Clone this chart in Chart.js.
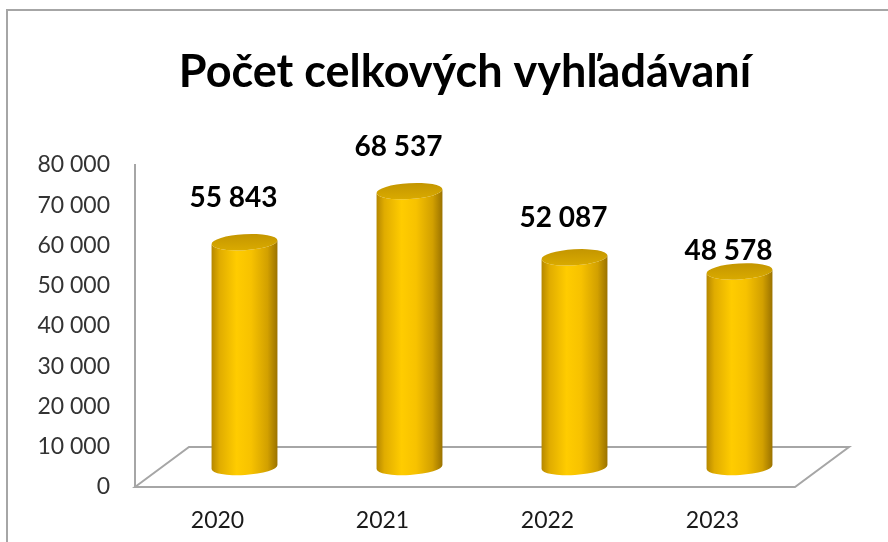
<!DOCTYPE html>
<html lang="sk">
<head>
<meta charset="UTF-8">
<title>Počet celkových vyhľadávaní</title>
<script src="https://cdn.jsdelivr.net/npm/chart.js"></script>
<style>
  body { margin: 0; background: #fff; }
  canvas { display: block; }
</style>
</head>
<body>
<canvas id="searchChart" width="888" height="542"></canvas>
<script>
// data
const years = ['2020', '2021', '2022', '2023'];
const searches = [55843, 68537, 52087, 48578];
const yMax = 80000;
const yStep = 10000;

const GREY = '#a6a6a6';
const DX = 54, DY = 40;          // depth of the 3D floor
const labelLift = [64, 64, 59, 41];

function spaced(v) {
    return String(v).replace(/\B(?=(\d{3})+(?!\d))/g, ' ');
}

// floor, frame, cylinders and value labels
const cylinders = {
    id: 'cylinders',
    beforeDraw(chart) {
        const ctx = chart.ctx;
        ctx.save();
        ctx.strokeStyle = GREY;
        ctx.lineWidth = 2;
        ctx.beginPath();
        ctx.moveTo(7, 542);
        ctx.lineTo(7, 10);
        ctx.lineTo(888, 10);
        ctx.stroke();
        ctx.restore();
    },
    beforeDatasetsDraw(chart) {
        const {ctx, chartArea: a} = chart;
        ctx.save();
        ctx.strokeStyle = GREY;
        ctx.lineWidth = 2;
        ctx.beginPath();
        ctx.moveTo(a.left, a.bottom);
        ctx.lineTo(a.left + DX, a.bottom - DY);
        ctx.lineTo(a.right + DX, a.bottom - DY);
        ctx.lineTo(a.right, a.bottom);
        ctx.closePath();
        ctx.stroke();
        ctx.restore();
    },
    afterDatasetsDraw(chart) {
        const ctx = chart.ctx;
        const meta = chart.getDatasetMeta(0);
        meta.data.forEach((bar, i) => {
            const rx = bar.width / 2, ry = 8, rot = -0.06;
            const cx = bar.x + DX / 2;
            const top = bar.y - DY / 2;
            const bot = bar.base - DY / 2;
            const ox = rx * Math.cos(rot), oy = rx * Math.sin(rot);

            ctx.save();
            const g = ctx.createLinearGradient(cx - rx, 0, cx + rx, 0);
            g.addColorStop(0, '#b58700');
            g.addColorStop(0.12, '#e0ac00');
            g.addColorStop(0.38, '#ffcc00');
            g.addColorStop(0.6, '#f7c200');
            g.addColorStop(0.85, '#d2a000');
            g.addColorStop(1, '#9a7200');
            ctx.fillStyle = g;
            ctx.beginPath();
            ctx.moveTo(cx - ox, top - oy);
            ctx.lineTo(cx - ox, bot - oy);
            ctx.ellipse(cx, bot, rx, ry, rot, Math.PI, 0, true);
            ctx.lineTo(cx + ox, top + oy);
            ctx.ellipse(cx, top, rx, ry, rot, 0, Math.PI, false);
            ctx.closePath();
            ctx.fill();

            const t = ctx.createLinearGradient(0, top - ry, 0, top + ry);
            t.addColorStop(0, '#c49600');
            t.addColorStop(1, '#d9aa00');
            ctx.fillStyle = t;
            ctx.beginPath();
            ctx.ellipse(cx, top, rx, ry, rot, 0, Math.PI * 2);
            ctx.fill();

            ctx.fillStyle = '#000';
            ctx.font = 'bold 28px Lato';
            ctx.textAlign = 'center';
            ctx.textBaseline = 'middle';
            ctx.fillText(spaced(searches[i]), bar.x + 16, bar.y - labelLift[i]);
            ctx.restore();
        });
    }
};

const ctx = document.getElementById('searchChart').getContext('2d');
new Chart(ctx, {
    type: 'bar',
    data: {
        labels: years,
        datasets: [{
            data: searches,
            backgroundColor: 'rgba(0,0,0,0)',
            barPercentage: 0.8,
            categoryPercentage: 0.5
        }]
    },
    options: {
        responsive: false,
        animation: false,
        devicePixelRatio: 1,
        layout: { padding: { left: 0, right: 93, top: 0, bottom: 0 } },
        plugins: {
            legend: { display: false },
            tooltip: { enabled: false },
            title: {
                display: true,
                fullSize: false,
                text: 'Počet celkových vyhľadávaní',
                color: '#000',
                font: { family: 'Lato', size: 45, weight: 'bold', lineHeight: 1.2 },
                padding: { top: 45, bottom: 66 }
            }
        },
        scales: {
            x: {
                grid: { display: false, drawTicks: false },
                border: { display: false },
                ticks: { color: '#1a1a1a', font: { family: 'Lato', size: 23 }, padding: 20 },
                afterFit: s => { s.height = 55; }
            },
            y: {
                min: 0,
                max: yMax,
                grid: { display: false, drawTicks: false },
                border: { display: true, color: GREY, width: 2 },
                ticks: {
                    stepSize: yStep,
                    color: '#333333',
                    font: { family: 'Lato', size: 23 },
                    padding: 25,
                    callback: v => spaced(v)
                },
                afterFit: s => { s.width = 135; }
            }
        }
    },
    plugins: [cylinders]
});
</script>
</body>
</html>
